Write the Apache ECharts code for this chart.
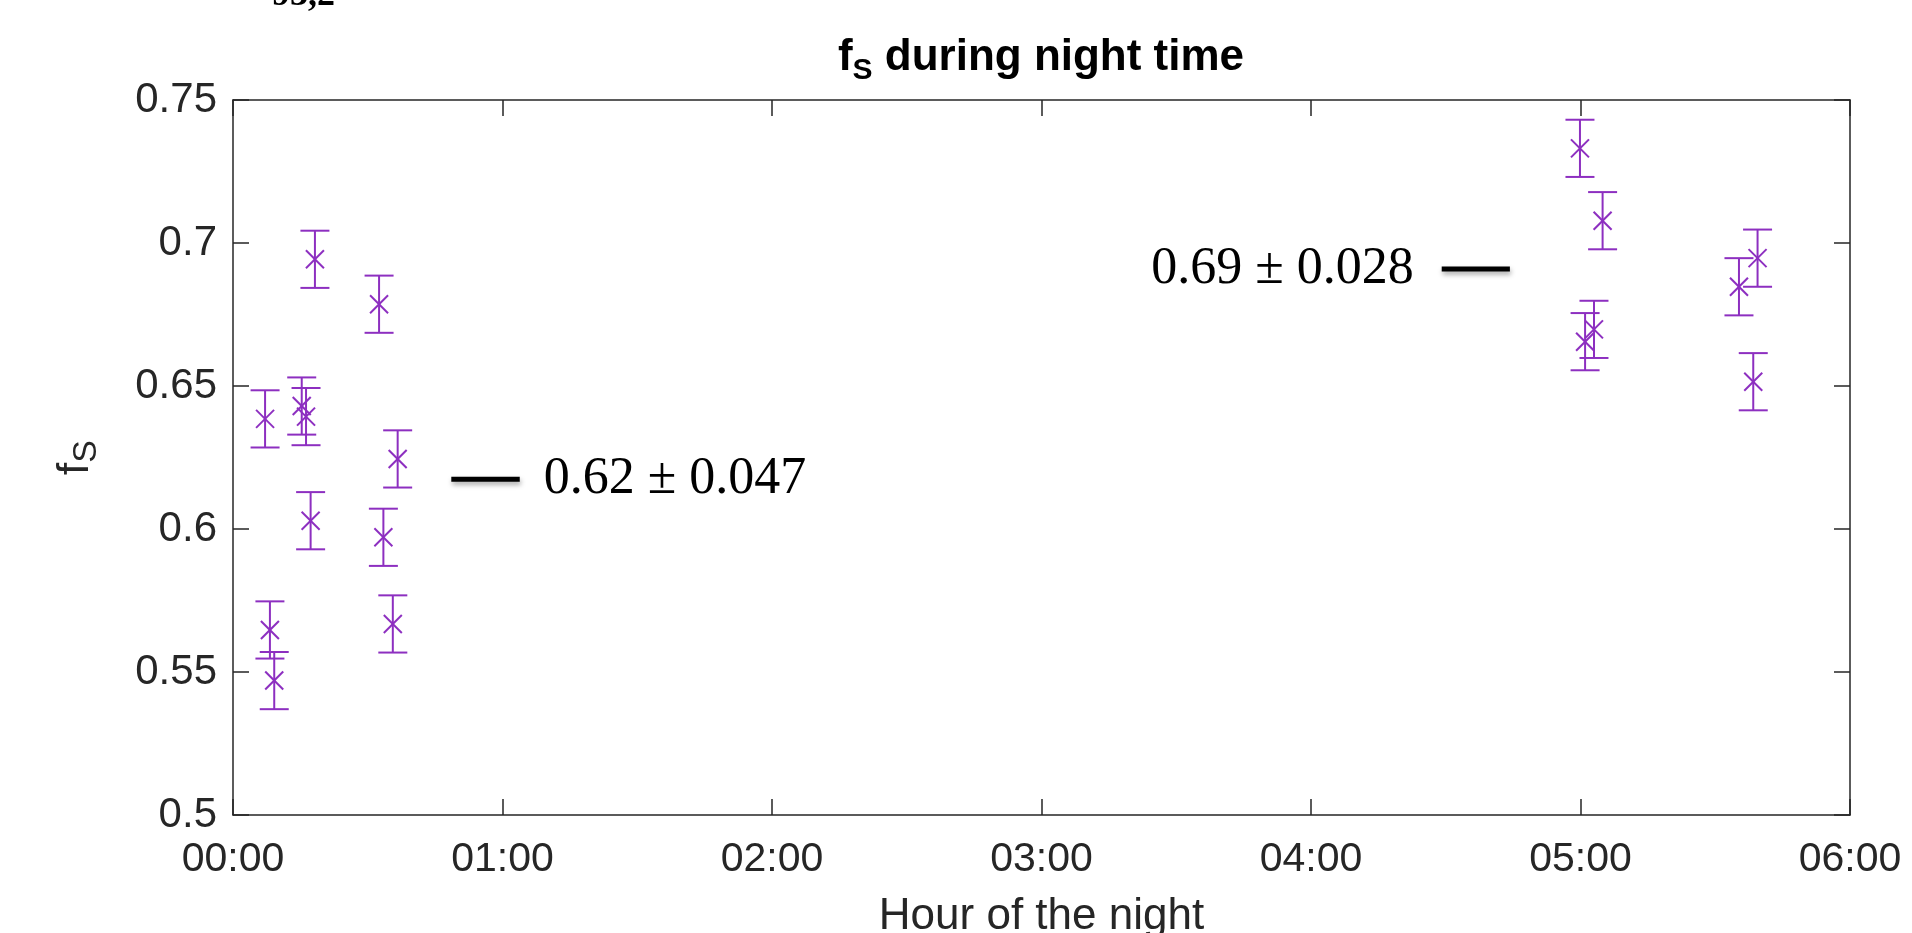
<!DOCTYPE html>
<html>
<head>
<meta charset="utf-8">
<title>fS during night time</title>
<script src="https://cdn.jsdelivr.net/npm/echarts@6/dist/echarts.min.js"></script>
<style>
  html, body { margin: 0; padding: 0; background: #fff; }
  #chart { width: 1912px; height: 933px; }
</style>
</head>
<body>
<div id="chart"></div>
<script>
// hours after midnight
const times = [0.119, 0.137, 0.153, 0.255, 0.271, 0.288, 0.304, 0.542, 0.558, 0.593, 0.611,
  4.998, 5.017, 5.050, 5.082, 5.588, 5.641, 5.657];
const values = [0.6385, 0.5647, 0.547, 0.643, 0.6393, 0.6029, 0.6943, 0.6786, 0.5971, 0.5668, 0.6245,
  0.7331, 0.6655, 0.6698, 0.7078, 0.6847, 0.6515, 0.6947];
const errors = [0.01, 0.01, 0.01, 0.01, 0.01, 0.01, 0.01, 0.01, 0.01, 0.01, 0.01,
  0.01, 0.01, 0.01, 0.01, 0.01, 0.01, 0.01];

// mean markers (start hour, end hour, level, text)
const meanStart = [0.81, 4.485];
const meanEnd = [1.064, 4.738];
const meanLevel = [0.6174, 0.6909];
const meanText = ['0.62 ± 0.047', '0.69 ± 0.028'];
const meanSide = ['right', 'left'];

const purple = '#8d2fc0';
const axisColor = '#262626';

var myChart = echarts.init(document.getElementById('chart'));

const tickStyle = {show: true, inside: true, length: 16, lineStyle: {color: axisColor, width: 1.5}};
const lineStyle = {show: true, onZero: false, lineStyle: {color: axisColor, width: 1.5}};

const option = {
  backgroundColor: '#fff',
  animation: false,
  grid: {left: 233, right: 62, top: 100, bottom: 118, outerBoundsMode: 'none', containLabel: false},
  graphic: [
    {
      type: 'text', left: 272, top: -22,
      style: {text: '93,2', font: 'bold 36px "Liberation Serif"', fill: '#000'}
    },
    {
      type: 'text', x: 1041, y: 58,
      style: {
        text: '{a|f}{b|S}{a| during night time}',
        align: 'center', verticalAlign: 'middle',
        rich: {
          a: {font: 'bold 44px "Liberation Sans"', fill: '#000', lineHeight: 44},
          b: {font: 'bold 30px "Liberation Sans"', fill: '#000', lineHeight: 30, padding: [26, 0, 0, 0]}
        }
      }
    }
  ],
  xAxis: [
    {
      type: 'value', min: 0, max: 6, interval: 1,
      name: 'Hour of the night', nameLocation: 'middle', nameGap: 80,
      nameTextStyle: {fontFamily: 'Liberation Sans', fontSize: 44, color: axisColor},
      axisLine: lineStyle, axisTick: tickStyle,
      axisLabel: {
        fontFamily: 'Liberation Sans', fontSize: 41, color: axisColor, margin: 24,
        formatter: v => (v < 10 ? '0' : '') + v + ':00'
      },
      splitLine: {show: false}
    },
    {
      type: 'value', min: 0, max: 6, interval: 1, position: 'top',
      axisLine: lineStyle, axisTick: tickStyle, axisLabel: {show: false}, splitLine: {show: false}
    }
  ],
  yAxis: [
    {
      type: 'value', min: 0.5, max: 0.75, interval: 0.05,
      name: '{a|f}{b|S}', nameLocation: 'middle', nameGap: 135, nameRotate: 90,
      nameTextStyle: {
        rich: {
          a: {fontFamily: 'Liberation Sans', fontSize: 44, color: axisColor, lineHeight: 44},
          b: {fontFamily: 'Liberation Sans', fontSize: 34, color: axisColor, lineHeight: 34, padding: [22, 0, 0, 0]}
        }
      },
      axisLine: lineStyle, axisTick: tickStyle,
      axisLabel: {fontFamily: 'Liberation Sans', fontSize: 42, color: axisColor, margin: 16},
      splitLine: {show: false}
    },
    {
      type: 'value', min: 0.5, max: 0.75, interval: 0.05, position: 'right',
      axisLine: lineStyle, axisTick: tickStyle, axisLabel: {show: false}, splitLine: {show: false}
    }
  ],
  series: [
    {
      name: 'fS',
      type: 'custom',
      xAxisIndex: 0, yAxisIndex: 0,
      data: times.map((t, i) => [t, values[i], errors[i]]),
      encode: {x: 0, y: 1},
      renderItem: function (params, api) {
        const x = api.value(0), y = api.value(1), e = api.value(2);
        const c = api.coord([x, y]);
        const hi = api.coord([x, y + e]);
        const lo = api.coord([x, y - e]);
        const cap = 14.5, m = 9;
        const st = {stroke: purple, lineWidth: 2, fill: null};
        return {
          type: 'group',
          children: [
            {type: 'line', shape: {x1: c[0], y1: hi[1], x2: c[0], y2: lo[1]}, style: st},
            {type: 'line', shape: {x1: c[0] - cap, y1: hi[1], x2: c[0] + cap, y2: hi[1]}, style: st},
            {type: 'line', shape: {x1: c[0] - cap, y1: lo[1], x2: c[0] + cap, y2: lo[1]}, style: st},
            {type: 'line', shape: {x1: c[0] - m, y1: c[1] - m, x2: c[0] + m, y2: c[1] + m}, style: st},
            {type: 'line', shape: {x1: c[0] - m, y1: c[1] + m, x2: c[0] + m, y2: c[1] - m}, style: st}
          ]
        };
      }
    },
    {
      name: 'mean',
      type: 'custom',
      xAxisIndex: 0, yAxisIndex: 0,
      data: meanStart.map((s, i) => [s, meanEnd[i], meanLevel[i]]),
      encode: {x: [0, 1], y: 2},
      renderItem: function (params, api) {
        const i = params.dataIndex;
        const a = api.coord([api.value(0), api.value(2)]);
        const b = api.coord([api.value(1), api.value(2)]);
        const right = meanSide[i] === 'right';
        return {
          type: 'group',
          children: [
            {
              type: 'line', shape: {x1: a[0], y1: a[1], x2: b[0], y2: b[1]},
              style: {
                stroke: '#000', lineWidth: 5,
                shadowBlur: 5, shadowOffsetX: 1, shadowOffsetY: 3, shadowColor: 'rgba(0,0,0,0.35)'
              }
            },
            {
              type: 'text',
              x: right ? b[0] + 24 : a[0] - 28, y: a[1],
              style: {
                text: meanText[i], font: '52px "Liberation Serif"', fill: '#000',
                align: right ? 'left' : 'right', verticalAlign: 'middle'
              }
            }
          ]
        };
      }
    }
  ]
};

myChart.setOption(option);
</script>
</body>
</html>
